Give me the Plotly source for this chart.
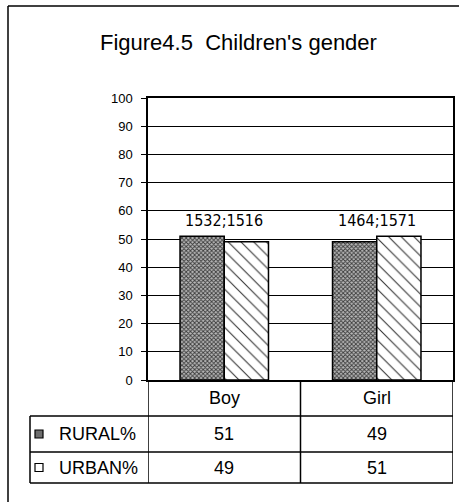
import plotly.graph_objects as go

# ---------------- data ----------------
categories = ["Boy", "Girl"]
series_names = ["RURAL%", "URBAN%"]
rural_pct = [51, 49]
urban_pct = [49, 51]
rural_n = [1532, 1464]
urban_n = [1516, 1571]
y_ticks = list(range(0, 101, 10))
title_text = "Figure4.5\u00a0\u00a0Children's gender"

# ---------------- layout helpers ----------------
W, H = 459, 502
def X(px):
    return px / W
def Y(py):
    return 1 - py / H

P_LEFT, P_RIGHT, P_TOP, P_BOTTOM = 148, 453, 98, 380
ROW_LINES = [416, 452, 483]
TABLE_LEFT = 30
FONT = "Liberation Sans, Arial, sans-serif"
NARROW = "Liberation Sans Narrow, DejaVu Sans Condensed, sans-serif"

fig = go.Figure()
fig.add_bar(
    x=categories, y=rural_pct, name=series_names[0],
    marker=dict(
        color="#888888",
        line=dict(color="black", width=1.5),
        pattern=dict(shape="x", size=3, solidity=0.5, fgcolor="#3a3a3a",
                     bgcolor="#b8b8b8", fillmode="replace"),
    ),
)
fig.add_bar(
    x=categories, y=urban_pct, name=series_names[1],
    marker=dict(
        color="white",
        line=dict(color="black", width=1.5),
        pattern=dict(shape="\\", size=9, solidity=0.12, fgcolor="#333333",
                     bgcolor="white", fillmode="replace"),
    ),
)

annotations = []
def ann(**kw):
    base = dict(showarrow=False, xanchor="center", yanchor="middle")
    base.update(kw)
    annotations.append(base)

# title
ann(text=title_text, x=X(238), y=Y(42), xref="paper", yref="paper",
    font=dict(family=FONT, size=22, color="black"))
# counts above bars
for i, c in enumerate(categories):
    ann(text=f"{rural_n[i]};{urban_n[i]}", x=i, y=max(rural_pct[i], urban_pct[i]),
        xref="x", yref="y", yanchor="bottom", yshift=4,
        font=dict(family=NARROW, size=16, color="black"))
# table header
for i, c in enumerate(categories):
    ann(text=c, x=i, y=Y((P_BOTTOM + ROW_LINES[0]) / 2), xref="x", yref="paper",
        font=dict(family=FONT, size=18, color="black"))
# table rows
rows = [rural_pct, urban_pct]
for r, vals in enumerate(rows):
    yc = Y((ROW_LINES[r] + ROW_LINES[r + 1]) / 2)
    ann(text=series_names[r], x=X(57), y=yc, xref="paper", yref="paper", xanchor="left",
        font=dict(family=FONT, size=18, color="black"))
    for i, v in enumerate(vals):
        ann(text=str(v), x=i, y=yc, xref="x", yref="paper",
            font=dict(family=FONT, size=18, color="black"))

shapes = []
lw = 1.5
# outer chart border (left and top)
shapes.append(dict(type="line", xref="paper", yref="paper", x0=X(8), x1=X(8), y0=Y(6), y1=-0.05,
                   line=dict(color="black", width=lw)))
shapes.append(dict(type="line", xref="paper", yref="paper", x0=X(8), x1=1.05, y0=Y(6), y1=Y(6),
                   line=dict(color="black", width=lw)))
# table horizontal lines
for ry in ROW_LINES:
    shapes.append(dict(type="line", xref="paper", yref="paper", x0=X(TABLE_LEFT), x1=X(P_RIGHT),
                       y0=Y(ry), y1=Y(ry), line=dict(color="black", width=lw)))
# table vertical lines (category boundaries)
for xb in [-0.5, 0.5, 1.5]:
    shapes.append(dict(type="line", xref="x", yref="paper", x0=xb, x1=xb,
                       y0=Y(P_BOTTOM), y1=Y(ROW_LINES[-1]), line=dict(color="black", width=lw)))
shapes.append(dict(type="line", xref="paper", yref="paper", x0=X(TABLE_LEFT), x1=X(TABLE_LEFT),
                   y0=Y(ROW_LINES[0]), y1=Y(ROW_LINES[-1]), line=dict(color="black", width=lw)))
# legend keys
key_styles = [dict(fillcolor="#6e6e6e"), dict(fillcolor="white")]
for r in range(2):
    yc = (ROW_LINES[r] + ROW_LINES[r + 1]) / 2
    shapes.append(dict(type="rect", xref="paper", yref="paper", x0=X(35), x1=X(43),
                       y0=Y(yc - 4), y1=Y(yc + 4), line=dict(color="black", width=1.2),
                       **key_styles[r]))

fig.update_layout(
    width=W, height=H, margin=dict(l=0, r=0, t=0, b=0, autoexpand=False),
    paper_bgcolor="white", plot_bgcolor="white",
    barmode="group", bargap=0.42, bargroupgap=0, showlegend=False,
    annotations=annotations, shapes=shapes,
    xaxis=dict(domain=[X(P_LEFT), X(P_RIGHT)], range=[-0.5, 1.5], showticklabels=False,
               ticks="", showgrid=False, showline=True, linecolor="black", linewidth=lw,
               mirror=True, zeroline=False),
    yaxis=dict(domain=[Y(P_BOTTOM), Y(P_TOP)], range=[0, 100], tickvals=y_ticks,
               ticks="outside", ticklen=5, tickcolor="black", tickwidth=1,
               showline=True, linecolor="black", linewidth=lw, mirror=True,
               showgrid=True, gridcolor="black", gridwidth=1, zeroline=False,
               tickfont=dict(family=FONT, size=13, color="black"), ticklabelstandoff=6),
)

fig.write_html(
    "out.html",
    config={"displayModeBar": False, "responsive": False},
    post_script="document.body.style.margin='0';document.body.style.overflow='hidden';",
)
